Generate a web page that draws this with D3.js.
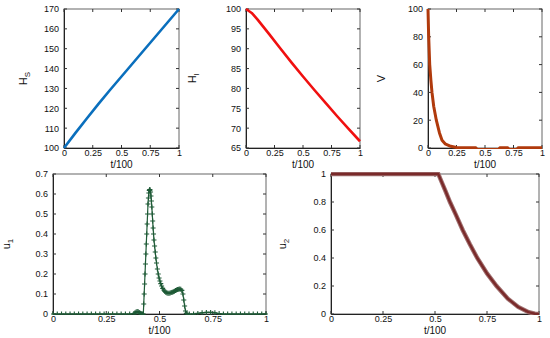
<!DOCTYPE html>
<html>
<head>
<meta charset="utf-8">
<script src="https://cdn.jsdelivr.net/npm/d3@7"></script>
<style>
  body { margin: 0; background: #fff; }
  svg { display: block; }
  text { font-family: "Liberation Sans", Arial, sans-serif; fill: #111; }
</style>
</head>
<body>
<div id="chart"></div>
<script>
// ---- data ----
const tTicks = [0, 0.25, 0.5, 0.75, 1];

const hsT = [0, 0.1, 0.2, 0.3, 0.4, 0.5, 0.6, 0.7, 0.8, 0.9, 1];
const hsV = [100, 107.6, 115, 122.2, 129.2, 136, 142.8, 149.6, 156.4, 163.2, 170];

const hlT = [0, 0.05, 0.1, 0.2, 0.3, 0.4, 0.5, 0.6, 0.7, 0.8, 0.9, 1];
const hlV = [100, 99, 97.4, 93.8, 90.1, 86.5, 83.0, 79.6, 76.3, 73.0, 69.8, 66.7];

const vT = [0, 0.006, 0.015, 0.025, 0.035, 0.05, 0.073, 0.1, 0.123, 0.15, 0.2, 0.25, 0.3, 0.42, 0.43, 0.62, 0.63, 0.7, 0.71, 0.78, 0.79, 1];
const vV = [100, 80, 60, 49, 40, 30, 20, 11, 5.5, 3, 1.2, 0.4, 0.1, 0.1, -1, -1, 0.1, 0.1, -1, -1, 0.1, 0.1];

const u1T = [0, 0.02, 0.04, 0.06, 0.08, 0.1, 0.12, 0.14, 0.16, 0.18, 0.2, 0.22, 0.24, 0.26, 0.28, 0.3,
  0.32, 0.34, 0.36, 0.38, 0.385, 0.39, 0.395, 0.4, 0.405, 0.41, 0.415, 0.42, 0.424,
  0.426, 0.428, 0.43, 0.432, 0.434, 0.436, 0.438, 0.44, 0.442, 0.444, 0.446, 0.448,
  0.45, 0.452, 0.454, 0.456, 0.458, 0.46, 0.462, 0.464, 0.466, 0.468, 0.47, 0.472, 0.474,
  0.477, 0.48, 0.483, 0.486, 0.49, 0.494, 0.498, 0.502, 0.506, 0.51, 0.515, 0.52, 0.525,
  0.53, 0.535, 0.54, 0.545, 0.55, 0.555, 0.56, 0.565, 0.57, 0.575, 0.58, 0.585, 0.59,
  0.595, 0.6, 0.605, 0.61, 0.614, 0.618, 0.622, 0.626, 0.63, 0.64, 0.66, 0.68, 0.7, 0.72,
  0.74, 0.76, 0.78, 0.8, 0.82, 0.84, 0.86, 0.88, 0.9, 0.92, 0.94, 0.96, 0.98, 1];
const u1V = [0, 0, 0, 0, 0, 0, 0, 0, 0, 0, 0, 0, 0, 0, 0, 0,
  0, 0, 0, 0.002, 0.006, 0.01, 0.012, 0.011, 0.008, 0.004, 0.001, 0, 0,
  0.05, 0.1, 0.15, 0.2, 0.25, 0.3, 0.35, 0.4, 0.45, 0.5, 0.55, 0.58,
  0.605, 0.618, 0.622, 0.62, 0.61, 0.59, 0.565, 0.535, 0.5, 0.465, 0.43, 0.4, 0.37,
  0.34, 0.31, 0.28, 0.255, 0.225, 0.2, 0.18, 0.165, 0.152, 0.14, 0.128, 0.12, 0.113,
  0.108, 0.105, 0.104, 0.104, 0.105, 0.107, 0.109, 0.111, 0.114, 0.117, 0.12, 0.122, 0.124,
  0.125, 0.124, 0.118, 0.1, 0.07, 0.04, 0.015, 0.003, 0, 0, 0, 0.003, 0.006, 0.008,
  0.008, 0.006, 0.002, 0, 0, 0, 0, 0, 0, 0, 0, 0, 0, 0];

const u2T = [0, 0.1, 0.2, 0.3, 0.4, 0.5, 0.516, 0.53, 0.55, 0.572, 0.6, 0.633, 0.667, 0.703, 0.75, 0.796, 0.85, 0.9, 0.95, 0.98, 1];
const u2V = [1, 1, 1, 1, 1, 1, 1, 0.95, 0.88, 0.8, 0.71, 0.6, 0.5, 0.4, 0.29, 0.2, 0.11, 0.05, 0.013, 0.002, 0];

const W = 550, H = 338;
const svg = d3.select("#chart").append("svg").attr("width", W).attr("height", H);

function fmt(v) {
  return String(+v.toFixed(2));
}

function panel(o) {
  const x = d3.scaleLinear().domain([0, 1]).range([o.x0, o.x1]);
  const y = d3.scaleLinear().domain(o.ydom).range([o.y1, o.y0]);
  const g = svg.append("g");
  const id = "clip" + o.id;

  g.append("clipPath").attr("id", id)
    .append("rect").attr("x", o.x0 - 2).attr("y", o.y0 - 2)
    .attr("width", o.x1 - o.x0 + 4).attr("height", o.y1 - o.y0 + 3);

  // frame
  g.append("rect").attr("x", o.x0).attr("y", o.y0)
    .attr("width", o.x1 - o.x0).attr("height", o.y1 - o.y0)
    .attr("fill", "none").attr("stroke", "#666").attr("stroke-width", 1);

  // inward ticks, all four sides
  const tk = 3;
  const axB = d3.axisBottom(x).tickValues(tTicks).tickSize(0).tickFormat(fmt).tickPadding(2);
  const gb = g.append("g").attr("transform", `translate(0,${o.y1})`).call(axB);
  gb.select(".domain").attr("stroke", "#222");
  const axL = d3.axisLeft(y).tickValues(o.yticks).tickSize(0).tickFormat(fmt).tickPadding(5);
  const gl = g.append("g").attr("transform", `translate(${o.x0},0)`).call(axL);
  gl.select(".domain").attr("stroke", "#222");
  [gb, gl].forEach(a => a.selectAll("text")
    .attr("font-size", 9).attr("fill", "#111")
    .style("font-family", "'Liberation Sans', Arial, sans-serif"));

  tTicks.forEach(t => {
    g.append("line").attr("x1", x(t)).attr("x2", x(t)).attr("y1", o.y1).attr("y2", o.y1 - tk).attr("stroke", "#333");
    g.append("line").attr("x1", x(t)).attr("x2", x(t)).attr("y1", o.y0).attr("y2", o.y0 + tk).attr("stroke", "#333");
  });
  o.yticks.forEach(v => {
    g.append("line").attr("x1", o.x0).attr("x2", o.x0 + tk).attr("y1", y(v)).attr("y2", y(v)).attr("stroke", "#333");
    g.append("line").attr("x1", o.x1).attr("x2", o.x1 - tk).attr("y1", y(v)).attr("y2", y(v)).attr("stroke", "#333");
  });

  // series
  const pts = o.t.map((t, i) => [t, o.v[i]]);
  const line = d3.line().x(d => x(d[0])).y(d => y(d[1]));
  const plot = g.append("g").attr("clip-path", `url(#${id})`);
  if (o.halo) {
    plot.append("path").datum(pts).attr("d", line).attr("fill", "none")
      .attr("stroke", o.halo).attr("stroke-width", o.width + 2);
  }
  plot.append("path").datum(pts).attr("d", line).attr("fill", "none")
    .attr("stroke", o.color).attr("stroke-width", o.width)
    .attr("stroke-linejoin", "round");
  if (o.marker) {
    const m = o.marker;
    plot.selectAll("path.mk").data(pts).join("path").attr("class", "mk")
      .attr("d", d => `M${x(d[0]) - m},${y(d[1])}h${2 * m}M${x(d[0])},${y(d[1]) - m}v${2 * m}`)
      .attr("stroke", o.color).attr("stroke-width", 1.1);
  }

  // labels
  g.append("text").attr("x", (o.x0 + o.x1) / 2).attr("y", o.y1 + 20)
    .attr("text-anchor", "middle").attr("font-size", 10).text("t/100");
  const yl = g.append("text")
    .attr("transform", `translate(${o.lx},${(o.y0 + o.y1) / 2}) rotate(-90)`)
    .attr("text-anchor", "middle").attr("font-size", 11);
  yl.append("tspan").text(o.label[0]);
  if (o.label[1]) yl.append("tspan").attr("font-size", 8).attr("dy", 3).text(o.label[1]);
}

panel({ id: 1, x0: 64, x1: 179, y0: 9, y1: 148, ydom: [100, 170], yticks: d3.range(100, 171, 10),
  t: hsT, v: hsV, color: "#0a6fbd", width: 2.6, label: ["H", "S"], lx: 27 });
panel({ id: 2, x0: 246, x1: 360, y0: 9, y1: 148, ydom: [65, 100], yticks: d3.range(65, 101, 5),
  t: hlT, v: hlV, color: "#f01010", width: 2.6, label: ["H", "l"], lx: 196 });
panel({ id: 3, x0: 428, x1: 542, y0: 9, y1: 148, ydom: [0, 100], yticks: d3.range(0, 101, 20),
  t: vT, v: vV, color: "#b03a0c", width: 3, label: ["V"], lx: 385 });
panel({ id: 4, x0: 53, x1: 266, y0: 174, y1: 314, ydom: [0, 0.7], yticks: [0, 0.1, 0.2, 0.3, 0.4, 0.5, 0.6, 0.7],
  t: u1T, v: u1V, color: "#1e5a36", width: 1.2, marker: 2.5, label: ["u", "1"], lx: 10 });
panel({ id: 5, x0: 331, x1: 539, y0: 174, y1: 314, ydom: [0, 1], yticks: [0, 0.2, 0.4, 0.6, 0.8, 1],
  t: u2T, v: u2V, color: "#7a2a2a", halo: "#a07070", width: 2.4, label: ["u", "2"], lx: 286 });
</script>
</body>
</html>
